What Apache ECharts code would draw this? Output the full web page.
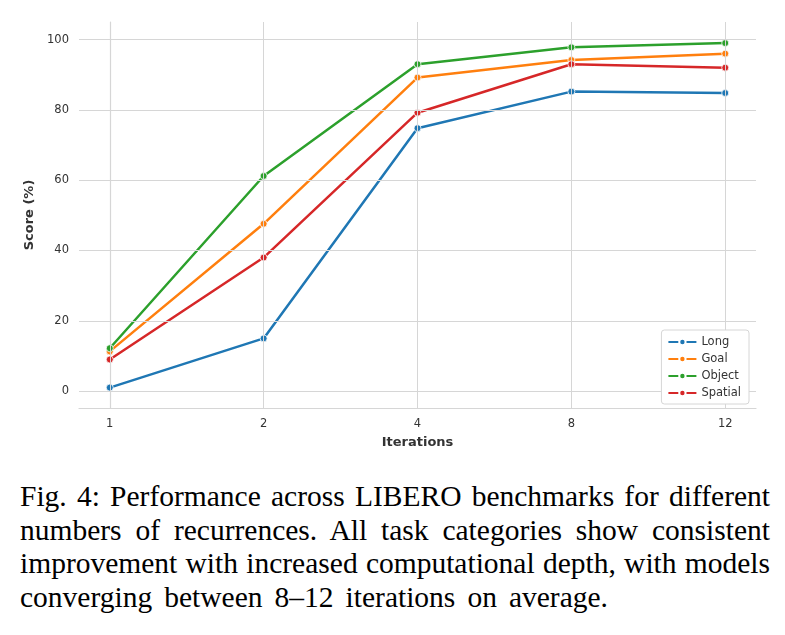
<!DOCTYPE html>
<html>
<head>
<meta charset="utf-8">
<script src="https://cdn.jsdelivr.net/npm/echarts@6/dist/echarts.min.js"></script>
<style>
  html, body { margin: 0; padding: 0; background: #fff; }
  #chart { width: 785px; height: 465px; }
  #caption {
    width: 750px; margin-left: 20px; margin-top: 15px;
    font-family: "Liberation Serif", "DejaVu Serif", serif;
    font-size: 29.5px; line-height: 33.7px; color: #000;
  }
  #caption .ln { display: block; text-align: justify; text-align-last: justify; white-space: nowrap; }
  #caption .last { display: inline-block; width: 588px; }
</style>
</head>
<body>
<div id="chart"></div>
<div id="caption">
  <span class="ln">Fig. 4: Performance across LIBERO benchmarks for different</span>
  <span class="ln">numbers of recurrences. All task categories show consistent</span>
  <span class="ln">improvement with increased computational depth, with models</span>
  <span class="ln last">converging between 8–12 iterations on average.</span>
</div>
<script>
// iterations are plotted at equal spacing (categorical x)
let iterations = ['1', '2', '4', '8', '12'];
let longScores = [1, 15, 74.8, 85.2, 84.8];
let goalScores = [11.3, 47.6, 89.2, 94.2, 96.0];
let objectScores = [12.2, 61.2, 93.0, 97.8, 99.0];
let spatialScores = [9.0, 38.0, 79.2, 93.0, 92.0];
let yTicks = [0, 20, 40, 60, 80, 100];

let names = ['Long', 'Goal', 'Object', 'Spatial'];
let colors = ['#1f77b4', '#ff7f0e', '#2ca02c', '#d62728'];
let allScores = [longScores, goalScores, objectScores, spatialScores];
let xPos = iterations.map(function (s, k) { return k; });

let myChart = echarts.init(document.getElementById('chart'));
let gridColor = '#d6d6d6';

let series = names.map(function (name, i) {
    return {
        name: name,
        type: 'line',
        symbol: 'circle',
        symbolSize: 7,
        color: colors[i],
        lineStyle: { width: 2.5 },
        itemStyle: { borderColor: '#fff', borderWidth: 0.8 },
        z: 3,
        data: allScores[i].map(function (v, k) { return [k, v]; })
    };
});

myChart.setOption({
    backgroundColor: '#fff',
    animation: false,
    textStyle: { fontFamily: 'DejaVu Sans' },
    grid: { left: 79, right: 29, top: 22, bottom: 57 },
    legend: {
        orient: 'vertical',
        right: 36,
        bottom: 61,
        z: 10,
        itemWidth: 28,
        itemHeight: 8,
        itemGap: 5,
        padding: [6, 8, 5, 6],
        borderColor: '#d6d6d6',
        borderWidth: 1,
        borderRadius: 3,
        backgroundColor: '#fff',
        textStyle: { fontSize: 11.5, color: '#333' },
        data: names
    },
    xAxis: {
        type: 'value',
        min: -0.2,
        max: 4.2,
        name: 'Iterations',
        nameLocation: 'middle',
        nameGap: 28,
        nameTextStyle: { fontSize: 13, fontWeight: 'bold', color: '#333' },
        axisLine: { show: true, onZero: false, lineStyle: { color: gridColor, width: 1.2 } },
        axisTick: { show: false },
        axisLabel: {
            fontSize: 11.5, color: '#333', margin: 10,
            customValues: xPos,
            formatter: function (v) {
                return iterations[Math.round(v)];
            }
        },
        splitLine: { show: false }
    },
    yAxis: {
        type: 'value',
        min: -4.8,
        max: 105,
        name: 'Score (%)',
        nameLocation: 'middle',
        nameGap: 35,
        nameTextStyle: { fontSize: 13, fontWeight: 'bold', color: '#333' },
        axisLine: { show: true, lineStyle: { color: gridColor, width: 1.2 } },
        axisTick: { show: false },
        axisLabel: {
            fontSize: 11.5, color: '#333', margin: 10,
            customValues: yTicks
        },
        splitLine: { show: false }
    },
    series: series.concat([{
        // grid lines at the tick positions
        type: 'line',
        silent: true,
        data: [],
        z: 1,
        markLine: {
            silent: true,
            symbol: 'none',
            label: { show: false },
            lineStyle: { color: gridColor, width: 1, type: 'solid' },
            data: yTicks.map(function (t) { return { yAxis: t }; })
                .concat(xPos.map(function (k) { return { xAxis: k }; }))
        }
    }])
});
</script>
</body>
</html>
